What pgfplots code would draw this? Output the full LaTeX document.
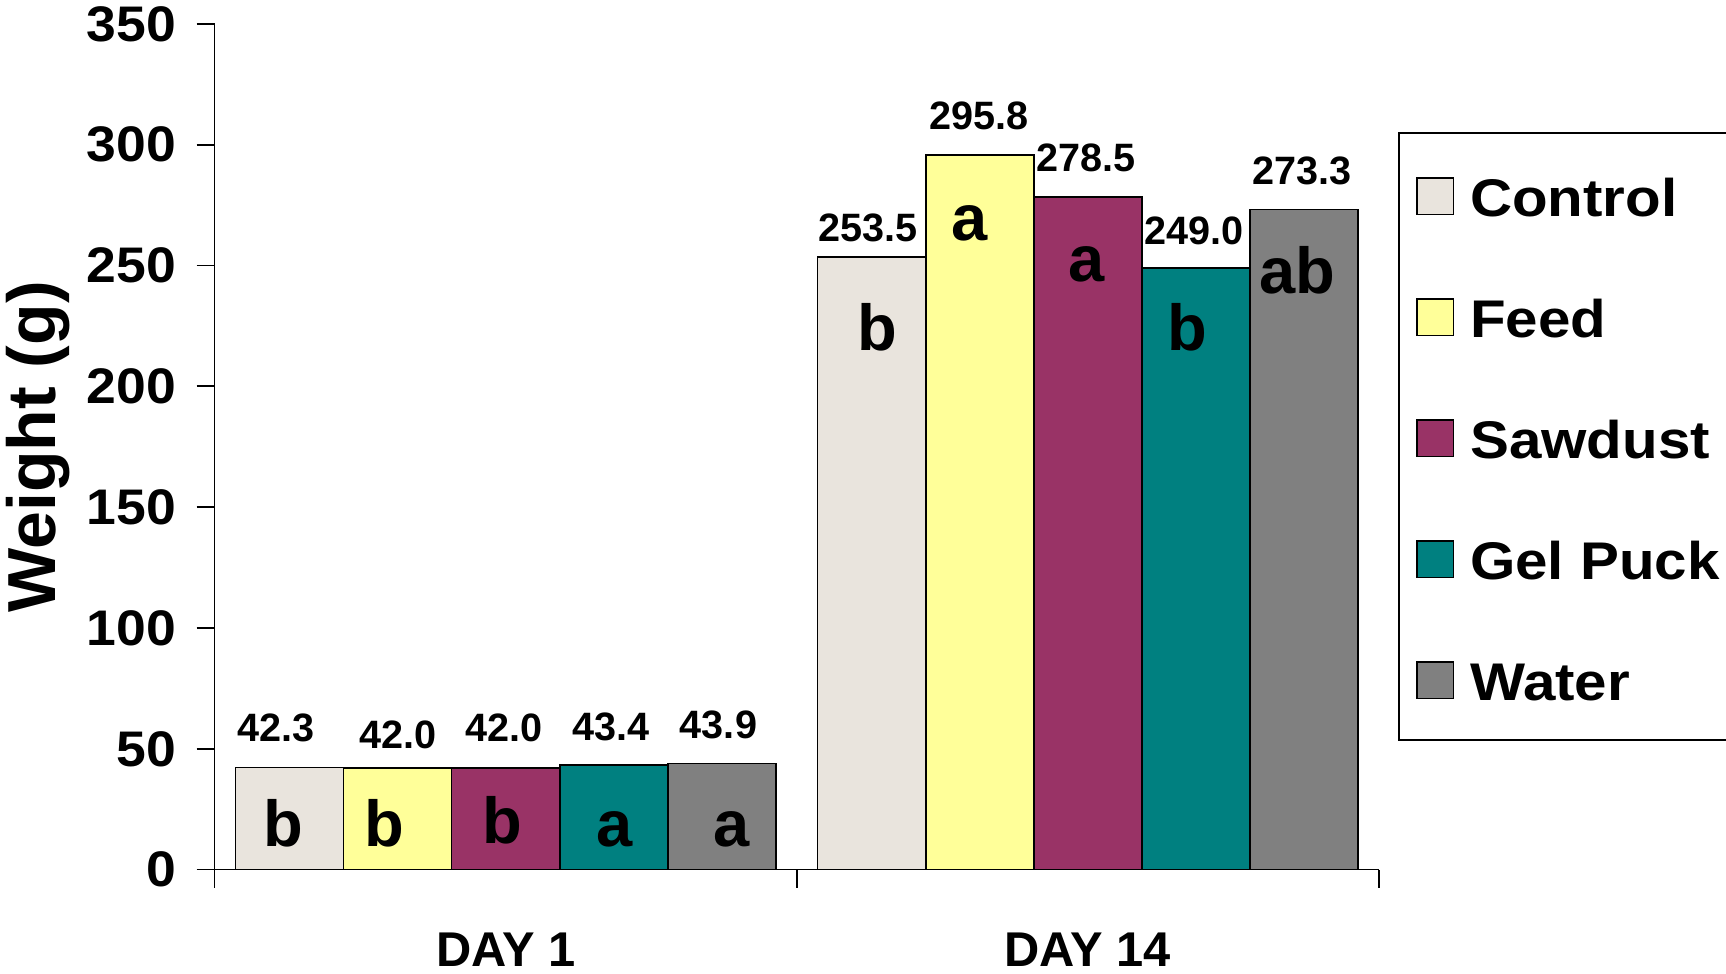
\documentclass[border=0pt]{standalone}
\usepackage{fontspec}
\setmainfont{Liberation Sans}
\usepackage{graphicx}
\usepackage{pgfplots}
\usepackage{pgfplotstable}
\pgfplotsset{compat=1.18}

\definecolor{ctrl}{RGB}{233,228,221}
\definecolor{feed}{RGB}{255,255,153}
\definecolor{sawdust}{RGB}{153,51,102}
\definecolor{gelpuck}{RGB}{0,128,128}
\definecolor{water}{RGB}{128,128,128}

\newcommand\wide[2][1.07]{\scalebox{#1}[1]{#2}}

% x: 0 = DAY 1, 1 = DAY 14; y: mean weight (g)
% lx/ly: value label offset (pt); let: significance letter; tx/ty: letter offset (pt)
\pgfplotstableread{
x y     lx   ly   let tx   ty
0 42.3  -6.8 12.8 b   -3.3 39.6
1 253.5 -2.0 7.8  b   3.0  46.5
}\control
\pgfplotstableread{
x y     lx   ly   let tx   ty
0 42.0  0.0  9.9  b   -6.5 39.3
1 295.8 -0.5 12.8 a   -5.0 42.6
}\feed
\pgfplotstableread{
x y     lx   ly   let tx   ty
0 42.0  -1.0 13.2 b   -1.7 37.6
1 278.5 -1.0 12.5 a   -0.5 42.5
}\sawdust
\pgfplotstableread{
x y     lx   ly   let tx   ty
0 43.4  -1.5 12.3 a   0.5  41.0
1 249.0 -0.8 12.0 b   -4.2 41.0
}\gelpuck
\pgfplotstableread{
x y     lx   ly   let tx   ty
0 43.9  -1.7 12.6 a   4.7  41.6
1 273.3 -1.1 12.2 ab  -3.5 42.0
}\water

\pgfplotsset{
  vallabels/.style={
    nodes near coords={\pgfmathprintnumber[fixed,fixed zerofill,precision=1]{\pgfplotspointmeta}},
    visualization depends on={\thisrow{lx} \as \lx},
    visualization depends on={\thisrow{ly} \as \ly},
    every node near coord/.append style={font=\fontsize{19.8}{22}\selectfont\bfseries,
      text=black, fill=none, draw=none, inner sep=0pt, text depth=0pt, anchor=base,
      xshift=\lx pt, yshift=\ly pt},
  },
  letlabels/.style={
    draw=none, fill=none, forget plot,
    point meta=explicit symbolic,
    nodes near coords,
    visualization depends on={\thisrow{tx} \as \tx},
    visualization depends on={\thisrow{ty} \as \ty},
    every node near coord/.append style={font=\fontsize{32.5}{34}\selectfont\bfseries,
      text=black, fill=none, draw=none, inner sep=0pt, text depth=0pt, anchor=base,
      xshift=\tx pt, yshift=-\ty pt},
  },
}

\begin{document}
\begin{tikzpicture}
\useasboundingbox (-107.3pt,-52.2pt) rectangle (755.7pt,434.8pt);
\begin{axis}[
  at={(0,0)}, anchor=south west,
  scale only axis, width=582.2pt, height=422.8pt,
  xmin=-0.5, xmax=1.5, ymin=0, ymax=350,
  axis x line*=bottom, axis y line*=left,
  axis line style={line width=0.9pt, black},
  tick align=outside,
  major tick length=9pt,
  tick style={black, line width=0.9pt},
  ytick={0,50,...,350},
  xtick={-0.5,0.5,1.5}, xticklabels={,,},
  extra x ticks={0,1},
  extra x tick labels={DAY 1,DAY 14},
  extra x tick style={major tick length=0pt},
  xticklabel style={font=\fontsize{24.4}{26}\selectfont\bfseries, anchor=base,
    inner sep=0pt, yshift=-48.5pt},
  yticklabel style={font=\fontsize{25}{26}\selectfont\bfseries, anchor=east,
    inner sep=0pt, xshift=-10.2pt},
  yticklabel={\wide{\pgfmathprintnumber{\tick}}},
  ylabel={Weight (g)},
  every axis y label/.style={at={(axis description cs:0,0.5)}, xshift=-88.5pt,
    rotate=90, anchor=center, font=\fontsize{34}{36}\selectfont\bfseries},
  /pgf/number format/assume math mode=true,
  ybar, bar width=54.05pt,
  clip=false,
  legend style={at={(axis description cs:1.0163,0.8726)}, anchor=north west,
    draw=black, line width=1pt, fill=white,
    inner xsep=4pt, inner ysep=5pt, row sep=8.8pt, column sep=8pt,
    font=\fontsize{26.5}{28}\selectfont\bfseries,
    cells={anchor=base west},
    nodes={inner sep=0pt, text height=37pt, text depth=14.7pt}},
  legend image code/.code={\path (0pt,0pt); \draw[#1, line width=0.8pt] (4.5pt,1.2pt) rectangle (22.8pt,19.5pt);},
]
\addplot[fill=ctrl, draw=black, line width=0.8pt, bar shift=-108.1pt, vallabels] table[x=x,y=y]{\control};
\addlegendentry{\wide[1.1]{Control}}
\addplot[fill=feed, draw=black, line width=0.8pt, bar shift=-54.05pt, vallabels] table[x=x,y=y]{\feed};
\addlegendentry{\wide[1.1]{Feed}}
\addplot[fill=sawdust, draw=black, line width=0.8pt, bar shift=0pt, vallabels] table[x=x,y=y]{\sawdust};
\addlegendentry{\wide[1.1]{Sawdust}}
\addplot[fill=gelpuck, draw=black, line width=0.8pt, bar shift=54.05pt, vallabels] table[x=x,y=y]{\gelpuck};
\addlegendentry{\wide[1.1]{Gel Puck}}
\addplot[fill=water, draw=black, line width=0.8pt, bar shift=108.1pt, vallabels] table[x=x,y=y]{\water};
\addlegendentry{\wide[1.1]{Water}}

\addplot[bar shift=-108.1pt, letlabels] table[x=x,y=y,meta=let]{\control};
\addplot[bar shift=-54.05pt, letlabels] table[x=x,y=y,meta=let]{\feed};
\addplot[bar shift=0pt, letlabels] table[x=x,y=y,meta=let]{\sawdust};
\addplot[bar shift=54.05pt, letlabels] table[x=x,y=y,meta=let]{\gelpuck};
\addplot[bar shift=108.1pt, letlabels] table[x=x,y=y,meta=let]{\water};
\end{axis}
\end{tikzpicture}
\end{document}
